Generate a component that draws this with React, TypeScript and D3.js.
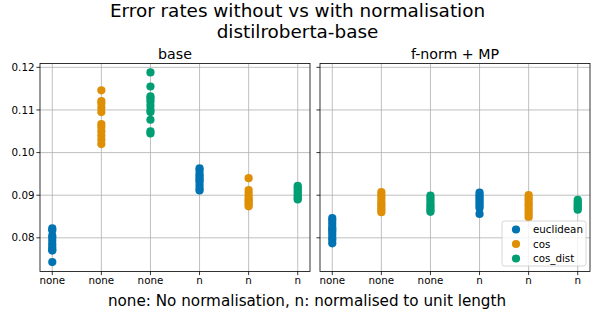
import React from 'react';
import * as d3 from 'd3';

// categories along x (same in both panels)
const categories = ['none', 'none', 'none', 'n', 'n', 'n'];
const metrics = ['euclidean', 'cos', 'cos_dist', 'euclidean', 'cos', 'cos_dist'];
const seriesNames = ['euclidean', 'cos', 'cos_dist'];
const colors = ['#0173b2', '#de8f05', '#029e73'];
const yTicks = [0.08, 0.09, 0.1, 0.11, 0.12];

// panel "base"
const baseEuclNone = [0.0822, 0.0818, 0.0805, 0.08, 0.0793, 0.0785, 0.0778, 0.0772, 0.077, 0.0743];
const baseCosNone = [0.1146, 0.1121, 0.1115, 0.1105, 0.1095, 0.1067, 0.106, 0.105, 0.104, 0.103, 0.102];
const baseCosDistNone = [0.1188, 0.1155, 0.1132, 0.1127, 0.112, 0.111, 0.11, 0.1095, 0.1077, 0.105, 0.1045];
const baseEuclN = [0.0963, 0.0958, 0.095, 0.0945, 0.094, 0.0935, 0.093, 0.0922, 0.0915, 0.0911];
const baseCosN = [0.094, 0.0912, 0.0905, 0.0898, 0.0892, 0.0888, 0.0883, 0.0878, 0.0874];
const baseCosDistN = [0.0922, 0.0918, 0.0913, 0.0908, 0.0903, 0.0898, 0.0893, 0.089];

// panel "f-norm + MP"
const fnEuclNone = [0.0846, 0.084, 0.0833, 0.0825, 0.082, 0.0815, 0.0808, 0.08, 0.0795, 0.0787];
const fnCosNone = [0.0907, 0.09, 0.0893, 0.0885, 0.088, 0.0875, 0.087, 0.0865, 0.086];
const fnCosDistNone = [0.0899, 0.0893, 0.0887, 0.088, 0.0875, 0.087, 0.0865, 0.0861];
const fnEuclN = [0.0906, 0.09, 0.0895, 0.089, 0.0885, 0.088, 0.0875, 0.087, 0.0856];
const fnCosN = [0.09, 0.0893, 0.0887, 0.088, 0.0875, 0.0868, 0.0862, 0.0855, 0.0848];
const fnCosDistN = [0.0889, 0.0884, 0.0879, 0.0874, 0.087, 0.0866];

const panels = [
  { title: 'base', groups: [baseEuclNone, baseCosNone, baseCosDistNone, baseEuclN, baseCosN, baseCosDistN] },
  { title: 'f-norm + MP', groups: [fnEuclNone, fnCosNone, fnCosDistNone, fnEuclN, fnCosN, fnCosDistN] },
];

const W = 596;
const H = 318;
const top = 63.5;
const bottom = 271.5;
const panelX = [40, 320];
const panelW = 270;
const font = 'DejaVu Sans, sans-serif';

export default function App() {
  const y = d3.scaleLinear().domain([0.0721, 0.1209]).range([bottom, top]);

  return (
    <svg width={W} height={H} style={{ position: 'absolute', left: 0, top: 0, background: '#fff' }} fontFamily={font}>
      <text x={297.5} y={17.3} textAnchor="middle" fontSize={18.4}>Error rates without vs with normalisation</text>
      <text x={297.5} y={38} textAnchor="middle" fontSize={18.4}>distilroberta-base</text>

      {panels.map((p, pi) => {
        const x0 = panelX[pi];
        const x = d3.scaleLinear().domain([-0.25, 5.25]).range([x0, x0 + panelW]);
        return (
          <g key={pi}>
            <text x={x0 + panelW / 2} y={59} textAnchor="middle" fontSize={14.2}>{p.title}</text>
            {/* grid */}
            {categories.map((_, i) => (
              <line key={'gx' + i} x1={x(i)} x2={x(i)} y1={top} y2={bottom} stroke="#b0b0b0" strokeWidth={0.8} />
            ))}
            {yTicks.map((t) => (
              <line key={'gy' + t} x1={x0} x2={x0 + panelW} y1={y(t)} y2={y(t)} stroke="#b0b0b0" strokeWidth={0.8} />
            ))}
            {/* points */}
            {p.groups.map((vals, gi) =>
              vals.map((v, k) => (
                <circle key={gi + '-' + k} cx={x(gi)} cy={y(v)} r={4.1}
                  fill={colors[seriesNames.indexOf(metrics[gi])]} />
              ))
            )}
            {/* frame */}
            <rect x={x0} y={top} width={panelW} height={bottom - top} fill="none" stroke="#000" strokeWidth={0.8} />
            {/* x ticks */}
            {categories.map((c, i) => (
              <g key={'xt' + i}>
                <line x1={x(i)} x2={x(i)} y1={bottom} y2={bottom + 3.6} stroke="#000" strokeWidth={0.8} />
                <text x={x(i)} y={284} textAnchor="middle" fontSize={10.3}>{c}</text>
              </g>
            ))}
            {/* y ticks */}
            {yTicks.map((t) => (
              <g key={'yt' + t}>
                <line x1={x0 - 3.6} x2={x0} y1={y(t)} y2={y(t)} stroke="#000" strokeWidth={0.8} />
                {pi === 0 && (
                  <text x={x0 - 5.5} y={y(t)} dy="0.35em" textAnchor="end" fontSize={10.3}>{d3.format('.2f')(t)}</text>
                )}
              </g>
            ))}
          </g>
        );
      })}

      {/* legend */}
      <g>
        <rect x={502} y={221} width={84} height={45} rx={2.5} fill="#fff" fillOpacity={0.8} stroke="#cccccc" strokeWidth={0.8} />
        {seriesNames.map((s, i) => (
          <g key={s}>
            <circle cx={516} cy={229.5 + i * 14.5} r={4.1} fill={colors[i]} />
            <text x={533} y={229.5 + i * 14.5} dy="0.35em" fontSize={10.3}>{s}</text>
          </g>
        ))}
      </g>

      <text x={W / 2 + 9} y={306} textAnchor="middle" fontSize={15.2}>none: No normalisation, n: normalised to unit length</text>
    </svg>
  );
}
